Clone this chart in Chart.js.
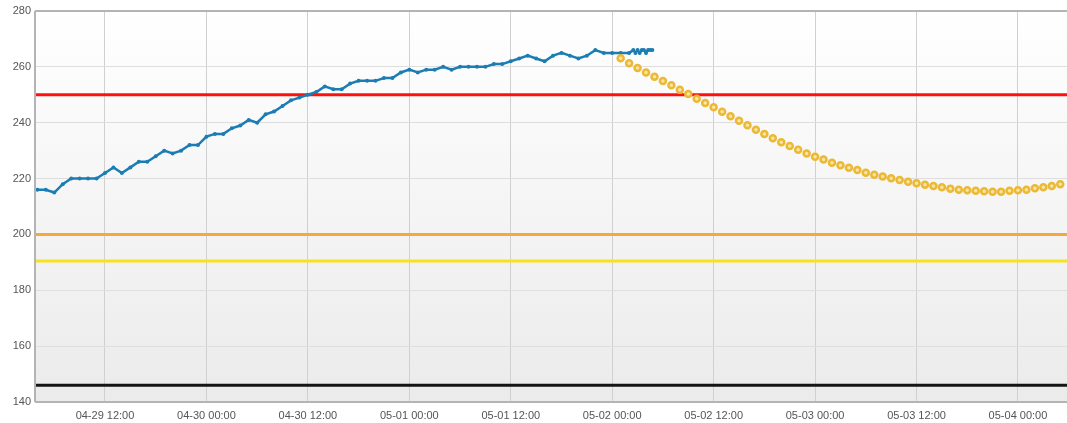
<!DOCTYPE html>
<html>
<head>
<meta charset="utf-8">
<script src="https://cdn.jsdelivr.net/npm/chart.js@4/dist/chart.umd.min.js"></script>
<style>
  html, body { margin: 0; padding: 0; background: #fff; overflow: hidden; }
  #wrap { width: 1067px; height: 423px; position: relative; }
</style>
</head>
<body>
<div id="wrap"><canvas id="chart"></canvas></div>
<script>
// heures depuis 04-29 00:00
const mesureHeures = [4, 5, 6, 7, 8, 9, 10, 11, 12, 13, 14, 15, 16, 17, 18, 19, 20, 21, 22, 23,
  24, 25, 26, 27, 28, 29, 30, 31, 32, 33, 34, 35, 36, 37, 38, 39, 40, 41, 42, 43,
  44, 45, 46, 47, 48, 49, 50, 51, 52, 53, 54, 55, 56, 57, 58, 59, 60, 61, 62, 63,
  64, 65, 66, 67, 68, 69, 70, 71, 72, 73, 74, 74.5, 74.75, 75, 75.25, 75.5, 75.75, 76, 76.25, 76.5, 76.75];
const mesureValeurs = [216, 216, 215, 218, 220, 220, 220, 220, 222, 224, 222, 224, 226, 226, 228, 230, 229, 230, 232, 232,
  235, 236, 236, 238, 239, 241, 240, 243, 244, 246, 248, 249, 250, 251, 253, 252, 252, 254, 255, 255,
  255, 256, 256, 258, 259, 258, 259, 259, 260, 259, 260, 260, 260, 260, 261, 261, 262, 263, 264, 263,
  262, 264, 265, 264, 263, 264, 266, 265, 265, 265, 265, 266, 265, 266, 265, 266, 266, 265, 266, 266, 266];

const prevHeures = [73, 74, 75, 76, 77, 78, 79, 80, 81, 82, 83, 84, 85, 86, 87, 88, 89, 90, 91, 92,
  93, 94, 95, 96, 97, 98, 99, 100, 101, 102, 103, 104, 105, 106, 107, 108, 109, 110, 111, 112,
  113, 114, 115, 116, 117, 118, 119, 120, 121, 122, 123, 124, 125];
const prevValeurs = [263.1, 261.3, 259.6, 258.0, 256.5, 254.9, 253.4, 251.8, 250.3, 248.6, 247.1, 245.5, 243.9, 242.3, 240.7, 239.1, 237.5, 236.0, 234.4, 233.0,
  231.7, 230.3, 229.0, 227.8, 226.8, 225.7, 224.8, 223.9, 223.1, 222.1, 221.4, 220.7, 220.1, 219.5, 218.9, 218.3, 217.8, 217.3, 216.9, 216.4,
  216.0, 215.8, 215.6, 215.5, 215.3, 215.3, 215.6, 215.8, 216.0, 216.5, 216.9, 217.3, 218.0];

// seuils
const seuilValeurs = [250, 200, 190.5, 146];
const seuilCouleurs = ['#ff1010', '#f5a93a', '#f7e21c', '#151515'];

// axe x
const xTickValeurs = [12, 24, 36, 48, 60, 72, 84, 96, 108, 120];
const xTickLabels = ['04-29 12:00', '04-30 00:00', '04-30 12:00', '05-01 00:00', '05-01 12:00',
  '05-02 00:00', '05-02 12:00', '05-03 00:00', '05-03 12:00', '05-04 00:00'];
const xMin = 3.72, xMax = 125.8;
const yMin = 140, yMax = 280, yPas = 20;

const toPts = (xs, ys) => xs.map((x, i) => ({ x: x, y: ys[i] }));

// fond dégradé + bordures
const fondPlugin = {
  id: 'fond',
  beforeDraw(c) {
    const a = c.chartArea, ctx = c.ctx;
    const g = ctx.createLinearGradient(0, a.top, 0, a.bottom);
    g.addColorStop(0, '#ffffff');
    g.addColorStop(1, '#ebebeb');
    ctx.save();
    ctx.fillStyle = g;
    ctx.fillRect(a.left, a.top, a.right - a.left, a.bottom - a.top);
    ctx.restore();
  },
  afterDraw(c) {
    const a = c.chartArea, ctx = c.ctx;
    ctx.save();
    ctx.strokeStyle = '#b4b4b4';
    ctx.lineWidth = 2;
    ctx.beginPath();
    ctx.moveTo(a.left, a.top); ctx.lineTo(a.right, a.top);
    ctx.moveTo(a.left, a.top); ctx.lineTo(a.left, a.bottom);
    ctx.moveTo(a.left, a.bottom); ctx.lineTo(a.right, a.bottom);
    ctx.stroke();
    ctx.restore();
  }
};

const datasets = [];
seuilValeurs.forEach((v, i) => {
  datasets.push({
    data: [{ x: xMin, y: v }, { x: xMax, y: v }],
    borderColor: seuilCouleurs[i], borderWidth: 3, pointRadius: 0, order: 10
  });
});
datasets.push({
  data: toPts(mesureHeures, mesureValeurs),
  borderColor: '#1b7db3', backgroundColor: '#1b7db3', borderWidth: 2.5,
  pointRadius: 2, pointBorderWidth: 0, tension: 0, order: 2
});
datasets.push({
  data: toPts(prevHeures, prevValeurs),
  showLine: false, pointRadius: 3, pointBorderWidth: 2.5,
  pointBorderColor: '#ebb935', pointBackgroundColor: '#f9e6a6', order: 1
});

new Chart(document.getElementById('chart'), {
  type: 'line',
  data: { datasets: datasets },
  options: {
    responsive: true, maintainAspectRatio: false, animation: false,
    layout: { autoPadding: false, padding: { top: 11, right: 0, left: 0, bottom: 0 } },
    plugins: { legend: { display: false }, tooltip: { enabled: false } },
    scales: {
      x: {
        type: 'linear', min: xMin, max: xMax,
        afterBuildTicks: s => { s.ticks = xTickValeurs.map(v => ({ value: v })); },
        afterFit: s => { s.height = 21; s.paddingRight = 0; s.paddingLeft = 0; },
        ticks: {
          autoSkip: false, maxRotation: 0, padding: 7, color: '#555',
          font: { family: 'Liberation Sans, Arial', size: 11 },
          callback: v => xTickLabels[xTickValeurs.indexOf(v)]
        },
        grid: { color: '#d0d0d0', drawTicks: false, lineWidth: 1 },
        border: { display: false }
      },
      y: {
        min: yMin, max: yMax,
        afterFit: s => { s.width = 35; },
        ticks: {
          stepSize: yPas, padding: 4, color: '#555',
          font: { family: 'Liberation Sans, Arial', size: 11 }
        },
        grid: { color: '#dedede', drawTicks: false, lineWidth: 1 },
        border: { display: false }
      }
    }
  },
  plugins: [fondPlugin]
});
</script>
</body>
</html>
